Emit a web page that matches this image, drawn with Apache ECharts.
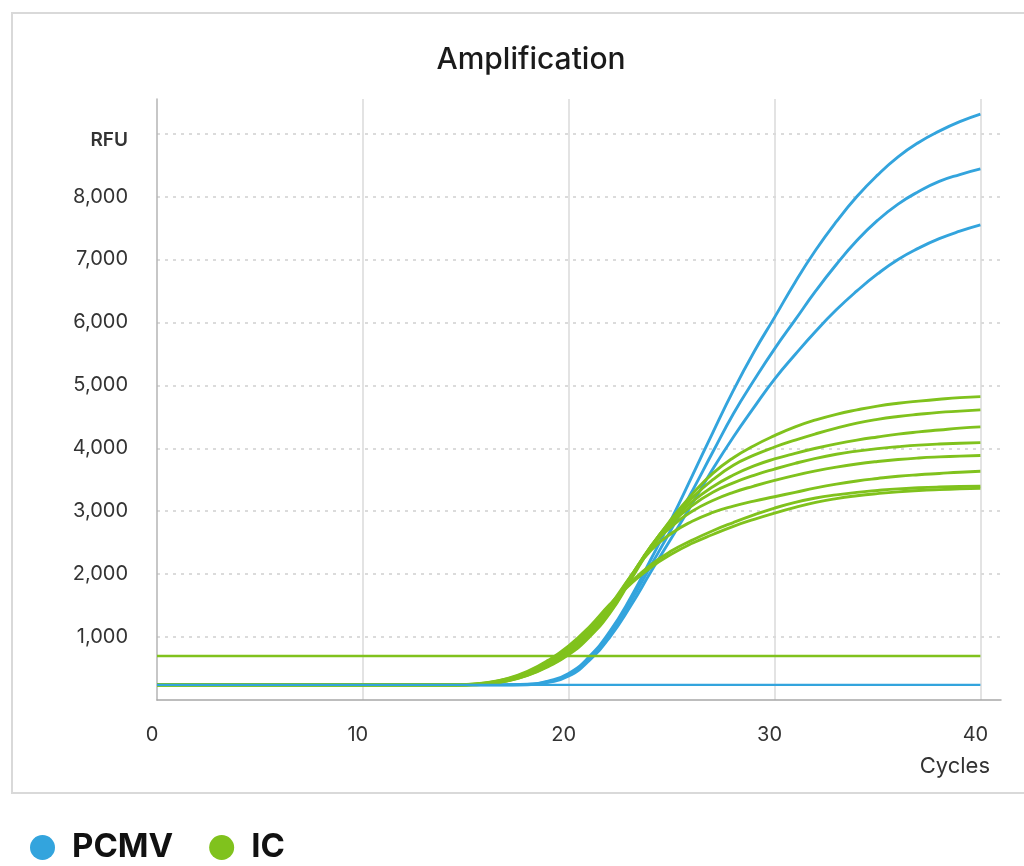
<!DOCTYPE html>
<html>
<head>
<meta charset="utf-8">
<script src="https://cdn.jsdelivr.net/npm/echarts@6/dist/echarts.min.js"></script>
<style>
  html, body { margin: 0; padding: 0; background: #fff; }
  #chart { width: 1024px; height: 866px; }
</style>
</head>
<body>
<div id="chart"></div>
<script>
// ---- data ----
const cycles = [0, 14, 15, 16, 17, 18, 19, 20, 21, 22, 23, 24, 25, 26, 27, 28, 29, 30, 31, 32, 33, 34, 35, 36, 37, 38, 39, 40];

const pcmv1 = [240, 240, 240, 240, 242, 250, 300, 420, 690, 1090, 1620, 2240, 2880, 3560, 4250, 4920, 5530, 6080, 6640, 7150, 7600, 8000, 8340, 8630, 8860, 9040, 9190, 9310];
const pcmv2 = [240, 240, 240, 240, 241, 246, 290, 400, 660, 1050, 1560, 2140, 2720, 3320, 3940, 4550, 5080, 5580, 6040, 6500, 6920, 7300, 7620, 7880, 8080, 8240, 8350, 8440];
const pcmv3 = [240, 240, 240, 240, 240, 243, 280, 380, 630, 1000, 1490, 2040, 2580, 3120, 3670, 4180, 4650, 5100, 5490, 5860, 6200, 6500, 6770, 7000, 7180, 7330, 7450, 7550];

const ic1 = [240, 240, 241, 255, 300, 390, 530, 720, 1000, 1380, 1900, 2430, 2880, 3270, 3600, 3850, 4040, 4200, 4340, 4450, 4540, 4610, 4670, 4715, 4750, 4780, 4805, 4820];
const ic2 = [240, 240, 242, 258, 305, 395, 540, 735, 1020, 1400, 1920, 2440, 2860, 3210, 3500, 3730, 3890, 4020, 4130, 4230, 4320, 4400, 4460, 4505, 4540, 4570, 4590, 4610];
const ic3 = [240, 240, 242, 260, 310, 405, 555, 755, 1040, 1430, 1930, 2450, 2840, 3150, 3390, 3575, 3720, 3830, 3920, 4000, 4070, 4130, 4180, 4225, 4260, 4290, 4320, 4340];
const ic4 = [240, 240, 243, 262, 315, 410, 565, 770, 1060, 1450, 1950, 2440, 2810, 3090, 3300, 3450, 3570, 3670, 3760, 3840, 3905, 3955, 3995, 4025, 4050, 4068, 4080, 4090];
const ic5 = [240, 240, 243, 265, 320, 420, 580, 790, 1080, 1470, 1960, 2420, 2760, 3000, 3170, 3300, 3400, 3490, 3570, 3640, 3700, 3750, 3790, 3822, 3846, 3863, 3876, 3885];
const ic6 = [240, 240, 244, 268, 328, 430, 595, 810, 1110, 1500, 1960, 2380, 2650, 2840, 2980, 3080, 3160, 3230, 3300, 3370, 3430, 3480, 3520, 3555, 3580, 3600, 3620, 3635];
const ic7 = [240, 240, 245, 272, 335, 445, 615, 840, 1140, 1510, 1860, 2150, 2370, 2540, 2690, 2820, 2940, 3050, 3140, 3210, 3260, 3300, 3330, 3355, 3372, 3384, 3392, 3398];
const ic8 = [240, 240, 245, 275, 340, 455, 630, 860, 1160, 1520, 1840, 2110, 2320, 2490, 2630, 2760, 2870, 2970, 3060, 3140, 3200, 3245, 3280, 3308, 3328, 3343, 3355, 3365];

const lineCycles = [0, 40];
const pcmvBaseline = [240, 240];
const icThreshold = [700, 700];

const seriesNames = ['PCMV', 'IC'];
const xTicks = [0, 10, 20, 30, 40];

// ---- styles ----
const BLUE = '#33a4dd';
const GREEN = '#80c21d';
const FONT = 'Inter, "Noto Sans", sans-serif';

function pairs(xs, ys) { return xs.map((x, i) => [x, ys[i]]); }

function curve(name, color, ys, z) {
  return {
    name: name, type: 'line', data: pairs(cycles, ys),
    smooth: 0.5, symbol: 'none', z: z,
    lineStyle: { color: color, width: 2.9 }, itemStyle: { color: color }
  };
}
function flat(name, color, ys, z) {
  return {
    name: name, type: 'line', data: pairs(lineCycles, ys),
    symbol: 'none', z: z,
    lineStyle: { color: color, width: 2.4 }, itemStyle: { color: color }
  };
}

const series = [
  curve('PCMV', BLUE, pcmv1, 2),
  curve('PCMV', BLUE, pcmv2, 2),
  curve('PCMV', BLUE, pcmv3, 2),
  curve('IC', GREEN, ic1, 3),
  curve('IC', GREEN, ic2, 3),
  curve('IC', GREEN, ic3, 3),
  curve('IC', GREEN, ic4, 3),
  curve('IC', GREEN, ic5, 3),
  curve('IC', GREEN, ic6, 3),
  curve('IC', GREEN, ic7, 3),
  curve('IC', GREEN, ic8, 3),
  flat('IC', GREEN, icThreshold, 4),
  flat('PCMV', BLUE, pcmvBaseline, 5)
];

const chart = echarts.init(document.getElementById('chart'), null, { renderer: 'canvas' });
chart.setOption({
  animation: false,
  backgroundColor: '#fff',
  graphic: [{
    type: 'rect', silent: true, z: -1,
    shape: { x: 12, y: 13, width: 1040, height: 780 },
    style: { fill: 'none', stroke: '#d9d9d9', lineWidth: 2 }
  }],
  title: {
    text: 'Amplification', left: 526, top: 40, textAlign: 'center',
    textStyle: { fontFamily: FONT, fontSize: 30, fontWeight: 500, color: '#1a1a1a' }
  },
  legend: {
    data: seriesNames, left: 25, top: 826, icon: 'circle',
    itemWidth: 25, itemHeight: 25, itemGap: 36,
    textStyle: { fontFamily: FONT, fontSize: 33, fontWeight: 'bold', color: '#111', padding: [0, 0, 0, 12] }
  },
  grid: { left: 157, right: 23, top: 99, bottom: 166 },
  xAxis: {
    type: 'value', min: 0, max: 41, interval: 10,
    name: 'Cycles', nameLocation: 'end', nameGap: -11,
    nameTextStyle: { fontFamily: FONT, fontSize: 22, color: '#333', align: 'right', verticalAlign: 'top', padding: [55, 0, 0, 0] },
    axisLine: { show: true, lineStyle: { color: '#a8a8a8', width: 1.5 } },
    axisTick: { show: false },
    axisLabel: {
      fontFamily: FONT, fontSize: 20, color: '#333', margin: 25, showMaxLabel: false,
      padding: [0, 10, 0, 0],
      formatter: v => (xTicks.indexOf(v) >= 0 ? String(v) : '')
    },
    splitLine: { show: true, showMinLine: false, showMaxLine: false, lineStyle: { color: '#dadada', width: 1.5, type: 'solid' } }
  },
  yAxis: {
    type: 'value', min: 0, max: 9550, interval: 1000,
    axisLine: { show: true, lineStyle: { color: '#b5b5b5', width: 1.5 } },
    axisTick: { show: false },
    axisLabel: {
      fontFamily: FONT, fontSize: 20, color: '#333', margin: 29, showMaxLabel: false, showMinLabel: false,
      formatter: v => v === 9000 ? '{b|RFU}' : (v > 0 && v < 9000 && v % 1000 === 0 ? v.toLocaleString('en-US') : ''),
      rich: { b: { fontFamily: FONT, fontSize: 19, fontWeight: 600, color: '#333', padding: [14, 0, 0, 0] } }
    },
    splitLine: { show: true, showMinLine: false, showMaxLine: false, lineStyle: { color: '#cfcfcf', width: 1.5, type: [3, 5] } }
  },
  series: series
});
</script>
</body>
</html>
